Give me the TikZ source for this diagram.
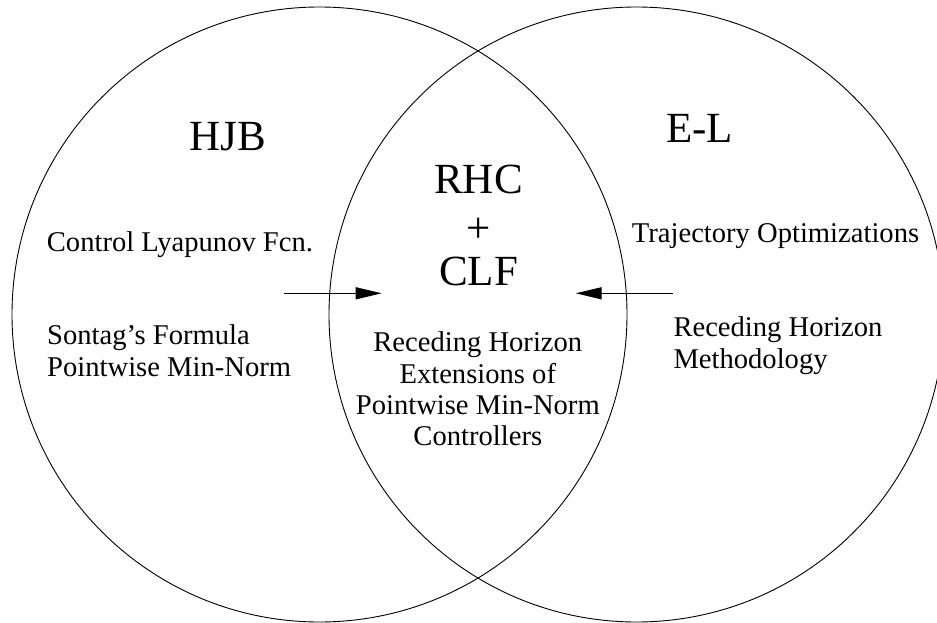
\documentclass[tikz,border=0pt]{standalone}
\usepackage{fontspec}
\setmainfont{Liberation Serif}
\usetikzlibrary{arrows.meta}
\begin{document}
\begin{tikzpicture}[x=1pt,y=-1pt,
  big/.style={font=\fontsize{43}{46}\selectfont, inner sep=0pt},
  small/.style={font=\fontsize{28.6}{32}\selectfont, inner sep=0pt},
  ring/.style={draw, circle, line width=0.9pt, minimum size=615pt, inner sep=0pt, outer sep=0pt},
  conn/.style={line width=1.3pt, -{Triangle[length=26pt,width=12pt]}}]
\useasboundingbox (0,0) rectangle (937,623);
\clip (0,0) rectangle (937,623);
% the two sets
\node[ring] (hjbset) at (319.5,314.5) {};
\node[ring] (elset) at (636.5,314.5) {};
% titles
\node[big, anchor=base] (hjb) at (228,150.7) {HJB};
\node[big, anchor=base] (el) at (699.5,142.7) {E-L};
\node[big, anchor=base] (rhc) at (478.5,193.3) {RHC};
\node[big] (plus) at (478.3,230) {+};
\node[big, anchor=base] (clf) at (478.5,285) {CLF};
% left set texts
\node[small, anchor=base west] (clyap) at (46.7,251.7) {Control Lyapunov Fcn.};
\node[small, anchor=base west] (sontag) at (47,344.5) {Sontag's Formula};
\node[small, anchor=base west] (pmnleft) at (47,376.5) {Pointwise Min-Norm};
% right set texts
\node[small, anchor=base west] (traj) at (631.7,242.7) {Trajectory Optimizations};
\node[small, anchor=base west] (rhright) at (673.3,336.7) {Receding Horizon};
\node[small, anchor=base west] (meth) at (673.3,368.3) {Methodology};
% intersection texts
\node[small, anchor=base] (rhmid) at (477.8,351) {Receding Horizon};
\node[small, anchor=base] (ext) at (477.8,383) {Extensions of};
\node[small, anchor=base] (pmnmid) at (477.8,414.5) {Pointwise Min-Norm};
\node[small, anchor=base] (ctrl) at (477.8,445.5) {Controllers};
% arrows
\coordinate (lstart) at (284,293.3);
\coordinate (lend) at (381.7,293.3);
\coordinate (rstart) at (672.7,293.3);
\coordinate (rend) at (575.7,293.3);
\draw[conn] (lstart) -- (lend);
\draw[conn] (rstart) -- (rend);
\end{tikzpicture}
\end{document}
